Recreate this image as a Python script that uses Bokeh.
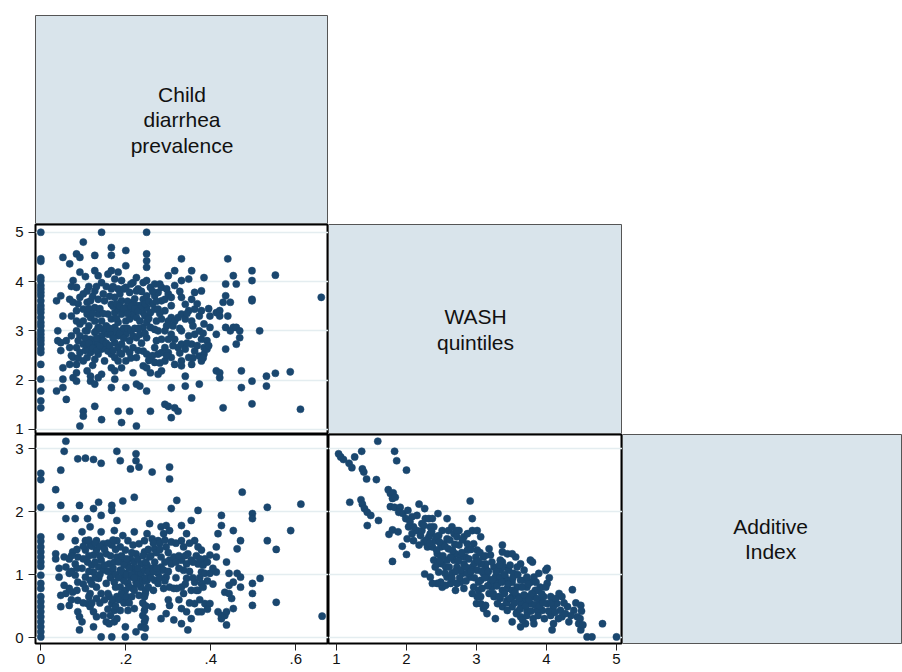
from bokeh.plotting import figure
from bokeh.layouts import gridplot
from bokeh.models import Range1d, FixedTicker
from bokeh.core.properties import value
from bokeh.embed import file_html
from bokeh.resources import INLINE

# ---------------- labels / ticks ----------------
var_labels = ["Child\ndiarrhea\nprevalence", "WASH\nquintiles", "Additive\nIndex"]
diar_ticks = [0, 0.2, 0.4, 0.6]
diar_tick_labels = ["0", ".2", ".4", ".6"]
wash_ticks = [1, 2, 3, 4, 5]
wash_tick_labels = ["1", "2", "3", "4", "5"]
addi_ticks = [0, 1, 2, 3]
addi_tick_labels = ["0", "1", "2", "3"]

# ---------------- panel A: diarrhea (x) vs WASH quintiles (y) ----------------
a_diar = [0.0, 0.037, 0.04, 0.047, 0.052, 0.06, 0.068, 0.076, 0.084, 0.092, 0.10, 0.109,
          0.117, 0.127, 0.135, 0.143, 0.15, 0.158, 0.166, 0.174, 0.182, 0.19, 0.20, 0.209,
          0.217, 0.225, 0.233, 0.241, 0.249, 0.258, 0.268, 0.276, 0.284, 0.292, 0.30, 0.307,
          0.315, 0.323, 0.331, 0.34, 0.348, 0.355, 0.362, 0.373, 0.378, 0.384, 0.391, 0.398,
          0.413, 0.421, 0.429, 0.435, 0.44, 0.446, 0.453, 0.46, 0.468, 0.472, 0.497, 0.515,
          0.531, 0.552, 0.587, 0.611, 0.66,
          0.072, 0.088, 0.105, 0.113, 0.122, 0.131, 0.139, 0.147, 0.154, 0.162, 0.170, 0.178,
          0.186, 0.195, 0.204, 0.212, 0.221, 0.229, 0.237, 0.245, 0.254, 0.263, 0.272, 0.280,
          0.296, 0.311, 0.327, 0.344, 0.358, 0.368, 0.382, 0.395]
a_wash = [
    [5.0, 4.46, 4.41, 4.08, 4.02, 3.92, 3.85, 3.78, 3.71, 3.61, 3.51, 3.44, 3.37, 3.27, 3.17,
     3.10, 3.0, 2.93, 2.86, 2.80, 2.73, 2.63, 2.56, 2.32, 2.02, 1.78, 1.58, 1.44],
    [3.61, 1.78], [3.0, 2.8], [3.71, 2.76, 2.6], [4.49, 3.3, 2.25, 2.02, 1.85], [2.8, 1.61],
    [4.36, 3.64, 2.66, 2.32], [4.02, 3.58, 2.46, 2.05],
    [4.56, 3.88, 3.41, 3.2, 3.0, 2.66, 2.32, 2.15, 1.98],
    [4.49, 4.19, 3.68, 3.14, 2.9, 2.56, 1.07],
    [4.8, 3.75, 3.44, 3.2, 2.73, 2.39, 1.37, 1.27],
    [3.81, 3.58, 3.34, 3.0, 2.66, 2.46, 2.19],
    [3.61, 3.27, 2.83, 2.56, 2.08, 1.98],
    [4.53, 4.22, 3.81, 3.47, 3.2, 2.97, 2.73, 2.42, 1.92, 1.47],
    [4.12, 3.64, 3.34, 3.07, 2.76, 2.53, 2.05],
    [5.0, 3.98, 3.2, 2.9, 2.63, 2.12, 1.2],
    [3.61, 3.0, 2.66, 2.39],
    [4.15, 3.34, 2.93, 2.59],
    [4.69, 4.53, 4.22, 3.85, 3.54, 3.24, 2.93, 2.53, 2.25, 1.85],
    [4.05, 3.68, 3.37, 3.07, 2.76, 2.46, 2.19, 2.02],
    [4.19, 3.85, 3.44, 3.17, 2.9, 2.66, 2.39, 1.37],
    [4.02, 3.61, 3.34, 3.0, 2.73, 2.53, 2.25, 1.14],
    [4.63, 4.32, 3.88, 3.47, 3.2, 2.93, 2.63, 2.39, 1.85],
    [3.78, 3.44, 3.24, 2.8, 2.56, 1.37],
    [3.98, 3.58, 3.34, 2.9, 2.66, 2.15],
    [4.08, 3.81, 3.51, 3.27, 2.86, 2.46, 1.92, 1.07],
    [3.51, 3.2, 2.93, 1.88],
    [3.98, 3.64, 3.37, 3.07, 2.59, 2.29],
    [5.0, 4.56, 4.42, 4.29, 4.02, 3.71, 3.47, 3.17, 2.86, 2.53, 2.25, 1.78],
    [3.88, 3.37, 3.07, 2.46, 2.15, 1.37],
    [3.95, 3.71, 3.44, 3.03, 2.66, 2.36],
    [3.78, 3.44, 3.0, 2.53, 2.12],
    [3.88, 3.61, 3.24, 2.83, 2.56, 2.19],
    [3.64, 3.41, 3.0, 2.66, 2.39, 1.51],
    [4.12, 3.75, 3.2, 2.83, 2.56, 1.47],
    [3.68, 3.51, 3.27, 2.93, 2.46, 1.85, 1.24],
    [4.22, 3.92, 3.2, 2.83, 2.32, 1.44],
    [3.27, 2.66, 1.37],
    [4.46, 4.02, 3.68, 3.34, 3.0, 2.73, 2.39, 2.29],
    [3.54, 3.24, 2.63, 2.08, 1.88],
    [4.05, 3.41, 2.9, 2.46],
    [4.22, 3.64, 3.2, 2.73, 2.32, 1.64],
    [3.78, 3.44, 2.93, 2.59],
    [3.3, 3.0, 2.49, 1.92],
    [3.81, 3.41, 2.83, 2.39],
    [4.08, 3.14, 2.66, 2.53],
    [2.8, 2.63], [3.3, 3.07], [3.37, 2.93, 2.19], [3.41, 3.3, 2.15, 2.05], [3.58, 1.44],
    [3.95, 3.71, 3.07, 2.63], [4.46, 3.3], [3.58, 3.0], [4.12, 3.07], [3.95, 3.07, 2.73],
    [3.0, 2.86], [2.19, 1.85], [4.22, 4.02, 3.64, 3.61, 1.98, 1.52], [3.0], [2.08, 1.88],
    [4.13, 2.14], [2.17], [1.41], [3.68],
    [3.9, 3.3, 2.9, 2.5], [3.55, 2.8, 2.45], [4.1, 3.0, 2.85, 2.6], [3.9, 3.45, 3.1, 2.75],
    [3.7, 3.35, 2.65, 2.3], [3.9, 3.0, 2.85, 2.6], [3.45, 3.05, 2.7], [3.75, 3.35, 2.8],
    [3.9, 3.1, 2.75], [3.7, 3.05, 2.7], [3.9, 3.5, 2.85, 2.6], [3.55, 3.25, 3.0],
    [3.75, 3.5, 2.95, 2.55], [3.85, 3.45, 3.05, 2.85], [3.6, 3.35, 3.05], [3.95, 3.5, 3.0, 2.45],
    [3.65, 3.45, 3.05], [3.85, 3.4, 3.05, 2.6], [3.8, 3.5, 2.75], [3.55, 3.3, 2.95],
    [3.6, 3.25, 2.4], [3.8, 3.55, 2.5], [3.6, 3.2, 2.8], [3.95, 3.35, 2.35], [3.85, 3.1, 2.5],
    [3.1, 2.7], [3.8, 3.05, 2.55], [3.35, 2.75], [3.1, 2.45], [3.55, 2.7], [2.95, 2.45],
    [3.45, 2.7]]

# ---------------- panel B: diarrhea (x) vs Additive Index (y) ----------------
b_diar = [0.0, 0.035, 0.043, 0.047, 0.055, 0.059, 0.067, 0.075, 0.081, 0.087, 0.091, 0.097,
          0.105, 0.11, 0.116, 0.124, 0.131, 0.136, 0.142, 0.147, 0.154, 0.161, 0.167, 0.173,
          0.179, 0.187, 0.193, 0.199, 0.205, 0.211, 0.217, 0.22, 0.224, 0.231, 0.236, 0.244,
          0.25, 0.256, 0.262, 0.268, 0.276, 0.283, 0.289, 0.295, 0.303, 0.307, 0.313, 0.32,
          0.331, 0.336, 0.343, 0.346, 0.354, 0.362, 0.37, 0.378, 0.386, 0.398, 0.413, 0.417,
          0.425, 0.433, 0.437, 0.443, 0.449, 0.453, 0.462, 0.47, 0.474, 0.498, 0.516, 0.533,
          0.554, 0.588, 0.612, 0.662,
          0.072, 0.085, 0.100, 0.113, 0.120, 0.128, 0.139, 0.150, 0.158, 0.164, 0.170, 0.176,
          0.183, 0.190, 0.196, 0.202, 0.208, 0.214, 0.220, 0.228, 0.240, 0.246, 0.247, 0.253,
          0.259, 0.265, 0.272, 0.280, 0.292, 0.300, 0.318, 0.325, 0.340, 0.350, 0.358, 0.366,
          0.374, 0.382, 0.392, 0.405]
b_addi = [
    [2.61, 2.51, 2.07, 1.60, 1.53, 1.44, 1.36, 1.28, 1.20, 1.13, 0.99, 0.86, 0.78, 0.65,
     0.57, 0.49, 0.41, 0.33, 0.25, 0.17, 0.09, 0.01],
    [2.35, 1.33, 1.25], [1.1, 0.96], [2.66, 2.1, 1.6, 0.67, 0.49], [2.96, 1.28, 0.83],
    [3.12, 1.89, 1.12, 0.70], [1.25, 1.02, 0.78, 0.51], [1.36, 0.72],
    [1.89, 1.54, 1.17, 0.99], [2.84, 1.28, 0.88, 0.59, 0.41], [2.1, 0.33, 0.12],
    [1.68, 1.1, 0.25], [2.85, 1.54, 1.39, 0.96, 0.78], [1.89, 1.2, 0.54],
    [1.76, 1.47, 0.91, 0.7, 0.49], [2.83, 2.05, 1.31, 1.04, 0.41, 0.17],
    [1.54, 1.39, 0.80, 0.62, 0.33], [2.15, 1.12, 0.94], [2.77, 1.94, 1.68, 1.23, 0.70, 0.01],
    [1.49, 1.07, 0.35], [1.33, 0.86, 0.25], [1.17, 0.65, 0.22],
    [2.1, 2.02, 1.47, 1.04, 0.54, 0.01], [1.70, 1.2, 0.88, 0.43, 0.25],
    [2.96, 1.86, 1.54, 1.28, 0.65, 0.30], [2.81, 1.44, 1.07, 0.80, 0.43],
    [2.17, 1.62, 1.2, 0.94, 0.59], [1.39, 1.02, 0.75, 0.17, 0.01], [1.54, 1.15, 0.86, 0.43],
    [2.68, 1.25, 0.96], [1.47, 1.1, 0.78], [2.23, 1.68, 0.46],
    [2.92, 2.81, 1.33, 1.04, 0.88, 0.09], [2.71, 1.49, 0.94, 0.67], [1.17, 1.02, 0.80, 0.17],
    [1.54, 1.36, 1.07, 0.65, 0.43, 0.25, 0.01], [1.65, 1.15, 0.91], [1.81, 1.28, 0.96],
    [2.63, 1.57, 1.1, 0.49], [1.41, 1.2, 0.91], [1.54, 1.02, 0.86], [1.76, 1.28, 1.12, 0.30],
    [1.65, 1.07, 0.78], [1.78, 1.44, 0.96, 0.38], [2.71, 2.52, 1.70, 1.23, 0.80, 0.51],
    [2.05, 1.52, 1.17], [1.28, 0.78, 0.28], [2.18, 0.78],
    [1.78, 1.54, 1.23, 0.80, 0.46, 0.22], [1.44, 1.07, 0.70], [1.65, 1.17, 0.94, 0.41],
    [1.33, 0.12], [1.86, 1.23, 0.75, 0.30], [1.54, 0.88, 0.54], [2.02, 1.44, 1.17, 0.75, 0.41],
    [1.39, 1.04, 0.86, 0.41], [1.25, 1.02, 0.54], [1.31, 1.02, 0.54], [1.44, 1.28, 1.04],
    [1.65, 0.41], [1.94, 1.78, 0.35, 0.30], [0.72, 0.35], [1.2, 0.20, 0.41], [1.02, 0.83, 0.70],
    [0.62], [1.70, 0.88, 0.46], [1.41, 1.02], [1.54, 0.96, 0.80], [2.31],
    [1.97, 1.89, 0.86, 0.70, 0.51], [0.94], [2.07, 1.54], [1.40, 0.56], [1.70], [2.12], [0.34],
    [1.3, 1.05, 0.6], [1.4, 1.1, 0.75], [1.45, 1.25, 0.85, 0.55], [1.55, 1.3, 1.05, 0.65],
    [1.45, 1.15, 0.85, 0.55], [1.5, 1.2, 0.95], [1.45, 1.3, 1.0, 0.55], [1.4, 1.15, 0.6],
    [1.5, 1.05, 0.7, 0.45], [1.3, 0.95, 0.35], [1.55, 1.1, 0.6], [1.4, 1.0, 0.8, 0.5],
    [1.2, 0.95, 0.6], [1.3, 1.05, 0.7], [1.15, 0.9, 0.55], [1.25, 1.0, 0.65], [1.1, 0.8, 0.55],
    [1.35, 1.0, 0.65], [1.2, 0.95, 0.75], [1.25, 1.1, 0.85], [1.3, 0.9, 0.55, 0.35],
    [0.9, 0.7, 0.5, 0.3, 0.15], [1.2, 0.95, 0.75, 0.5], [1.4, 1.05, 0.8], [1.3, 0.95],
    [1.5, 1.05, 0.75], [1.35, 1.1], [1.5, 1.4, 0.95], [1.55, 1.2, 0.9], [1.35, 1.05, 0.6],
    [1.5, 1.2, 0.95], [1.3, 1.1, 0.6], [1.3, 0.85], [1.5, 1.05, 0.55], [1.2, 0.95], [1.3, 0.75],
    [1.25, 0.95, 0.6], [1.15, 0.8], [1.2, 0.9, 0.45], [1.1, 0.85]]

# ---------------- panel C: WASH quintiles (x) vs Additive Index (y) ----------------
c_wash = [1.03, 1.06, 1.10, 1.18, 1.22, 1.26, 1.36, 1.37, 1.39, 1.43, 1.59, 1.57, 1.83, 1.86, 2.00,
          1.19, 1.35, 1.37, 1.40, 1.44, 1.49, 1.44, 1.60,
          1.74, 1.77, 1.81, 1.80, 1.84, 1.77, 1.83, 1.91, 1.89, 1.95, 2.02, 1.99, 2.08, 2.15, 2.18,
          2.26, 1.75, 1.80, 1.88, 1.80, 1.94, 2.00, 2.26,
          2.03, 2.08, 2.01, 2.10, 2.15, 2.20, 2.18, 2.22, 2.27, 2.25, 2.32, 2.37, 2.39, 2.34, 2.30,
          2.37, 2.41, 2.44, 2.49, 2.39, 2.41, 2.46, 2.51, 2.56, 2.58, 2.60, 2.53, 2.58, 2.51, 2.60,
          2.68, 2.65, 2.72, 2.75, 2.70, 2.68, 2.72, 2.65, 2.58, 2.51, 2.56, 2.63, 2.70, 2.77, 2.80,
          2.82, 2.84, 2.87, 2.82, 2.87, 2.94, 2.94, 2.91, 2.96, 3.01, 2.99, 2.94, 2.91, 2.96, 3.00,
          3.03, 3.06, 3.10, 3.13, 3.10, 3.15, 3.13, 3.18, 3.20, 3.25, 3.27, 3.22, 3.30, 3.34, 3.37,
          3.39, 3.41, 3.44, 3.34, 3.27, 3.37, 3.44, 3.46, 3.51, 3.53, 3.58, 3.56, 3.63, 3.68, 3.60,
          3.68, 3.72, 3.77, 3.80, 3.82, 3.84, 3.89, 3.91, 3.96, 3.99, 4.01, 3.94, 4.01, 4.06, 4.06,
          4.08, 4.10, 4.15, 4.18, 4.20, 4.22, 4.30, 4.32, 4.37, 4.39, 4.44, 4.46, 4.49, 4.49, 4.58,
          4.65, 4.80, 5.00, 3.44, 3.51, 3.58, 3.63, 3.70, 3.51, 3.82, 3.87, 3.77, 3.63, 3.37, 3.25,
          3.18, 3.06, 3.01, 2.94, 2.82, 2.72, 2.65, 2.49, 2.44, 2.37, 2.34, 3.06, 3.13, 3.44, 3.51,
          3.72, 3.91, 4.10, 4.22, 3.68, 3.58, 3.30, 3.37, 2.44, 2.49, 2.63, 2.77, 2.77, 2.87, 3.01,
          3.06, 3.15, 3.20, 3.34, 3.44, 3.63, 3.72, 3.82, 3.87, 3.63, 3.72, 3.51, 3.34, 3.10, 2.87,
          2.75, 2.46, 2.32, 2.22, 2.10, 2.05, 2.34, 2.45, 2.58, 2.72, 3.01, 3.06, 3.37, 3.51, 3.77,
          4.01,
          2.25, 2.28, 2.33, 2.36, 2.42, 2.47, 2.43, 2.48, 2.52, 2.55, 2.55, 2.61, 2.62, 2.66, 2.69,
          2.70, 2.74, 2.76, 2.79, 2.80, 2.85, 2.85, 2.89, 2.92, 2.92, 2.97, 2.97, 3.02, 3.03, 3.05,
          3.08, 3.08, 3.12, 3.12, 3.16, 3.17, 3.22, 3.23, 3.24, 3.28, 3.29, 3.32, 3.33, 3.36, 3.40,
          3.40, 3.43, 3.45, 3.48, 3.48, 3.52, 3.54, 3.55, 3.57, 3.59, 3.61, 3.62, 3.65, 3.66, 3.68,
          3.70, 3.72, 3.74, 3.75, 3.78, 3.79, 3.81, 3.83, 3.85, 3.86, 3.88, 3.90, 3.93, 3.95, 3.97,
          3.99, 4.03, 4.04, 4.07, 4.12, 4.13, 4.17, 4.25, 4.27, 4.35, 4.42, 4.48, 4.50, 4.52]
c_addi = [2.92, 2.87, 2.83, 2.77, 2.70, 2.87, 2.96, 2.68, 2.63, 2.52, 3.12, 2.51, 2.96, 2.81, 2.66,
          2.15, 2.19, 2.12, 2.05, 1.99, 1.94, 1.78, 1.86,
          2.35, 2.29, 2.30, 2.21, 2.23, 2.08, 2.07, 2.07, 1.99, 1.97, 2.02, 1.89, 1.92, 1.94, 2.12,
          2.05, 1.64, 1.71, 1.68, 1.21, 1.45, 1.32, 1.01,
          1.76, 1.65, 1.57, 1.54, 1.70, 1.62, 1.47, 1.81, 1.89, 1.52, 1.89, 1.89, 1.76, 1.65, 1.44,
          1.44, 1.54, 1.33, 1.28, 1.23, 1.12, 1.04, 1.17, 1.12, 1.23, 1.41, 1.49, 1.57, 1.70, 1.70,
          1.65, 1.76, 1.60, 1.47, 1.33, 1.23, 1.12, 1.02, 0.96, 0.80, 0.83, 0.86, 0.75, 0.88, 1.02,
          1.17, 1.28, 1.39, 1.60, 1.65, 1.70, 1.89, 2.17, 1.49, 1.39, 1.28, 1.12, 0.96, 0.80, 0.54,
          0.75, 0.91, 1.02, 1.10, 0.46, 0.38, 1.17, 1.41, 1.31, 1.12, 0.96, 0.80, 0.86, 1.07, 1.20,
          1.12, 0.96, 0.78, 0.62, 0.30, 1.47, 1.33, 1.07, 0.88, 1.02, 1.12, 1.28, 1.17, 1.07, 0.65,
          0.59, 0.80, 0.88, 1.20, 0.96, 0.75, 1.02, 0.80, 0.65, 1.07, 0.86, 0.43, 0.54, 0.65, 0.35,
          0.12, 0.49, 0.54, 0.70, 0.43, 0.33, 0.49, 0.25, 0.76, 0.43, 0.33, 0.22, 0.51, 0.12, 0.01,
          0.01, 0.22, 0.01, 0.59, 0.49, 0.41, 0.17, 0.22, 0.25, 0.22, 0.43, 0.54, 0.33, 0.49, 0.65,
          0.70, 0.65, 0.65, 0.70, 0.78, 0.86, 0.94, 0.88, 0.86, 0.86, 0.96, 0.54, 0.51, 0.43, 0.65,
          0.43, 0.59, 0.22, 0.65, 0.91, 0.80, 0.54, 0.75, 1.17, 1.44, 1.28, 1.28, 1.07, 1.02, 1.07,
          1.17, 0.96, 0.86, 0.96, 0.91, 0.91, 0.65, 0.65, 0.75, 0.54, 0.96, 0.75, 1.23, 1.28, 1.49,
          1.70, 1.62, 1.60, 1.70, 1.76, 1.84, 1.76, 1.97, 1.89, 1.70, 1.70, 1.60, 1.36, 1.33, 1.23,
          1.10,
          1.78, 1.55, 1.50, 1.68, 1.60, 1.52, 1.39, 1.22, 1.30, 1.45, 1.02, 1.12, 1.55, 1.38, 1.48,
          1.05, 1.22, 0.95, 1.35, 1.55, 1.12, 0.90, 1.25, 1.40, 1.05, 1.18, 0.95, 1.22, 0.88, 1.35,
          1.05, 0.78, 0.95, 1.30, 0.82, 1.05, 1.20, 0.92, 0.70, 1.05, 0.82, 0.65, 1.15, 0.88, 0.70,
          1.00, 0.55, 0.85, 1.15, 0.62, 0.95, 0.55, 0.72, 0.38, 1.00, 0.62, 0.45, 0.80, 0.28, 0.68,
          0.50, 0.35, 0.85, 0.60, 0.42, 0.70, 0.30, 0.52, 0.88, 0.62, 0.35, 0.50, 0.70, 0.55, 0.30,
          0.80, 0.42, 0.95, 0.55, 0.40, 0.62, 0.30, 0.55, 0.38, 0.35, 0.55, 0.30, 0.42, 0.20]

# ---------------- style ----------------
NAVY = "#1a476f"
DIAG_FILL = "#d9e4eb"
GRID_COL = "#e4edf0"
FONT = "Liberation Sans"

diar_range = (-0.0125, 0.677)
wash_range_y = (0.898, 5.157)
wash_range_x = (0.886, 5.086)
addi_range = (-0.095, 3.227)

COL_W = [293, 294, 280]
ROW_H = [209, 210, 209]
LEFT_B = 35
TOP_B = 15
BOT_B = 27


def expand(xs, groups):
    xo, yo = [], []
    for x, ys in zip(xs, groups):
        for y in ys:
            xo.append(x)
            yo.append(y)
    return xo, yo


def style_axis(ax, ticks, labels):
    ax.ticker = FixedTicker(ticks=ticks)
    ax.major_label_overrides = {t: l for t, l in zip(ticks, labels)}
    ax.axis_line_color = None
    ax.major_tick_line_color = "#222222"
    ax.major_tick_line_width = 1
    ax.minor_tick_line_color = None
    ax.major_label_text_font = FONT
    ax.major_label_text_font_size = "15px"
    ax.major_label_text_color = "#111111"


def scatter_panel(x, y, xr, yr, fw, fh, left, bottom, xt=None, xl=None, yt=None, yl=None, grid_ticks=None):
    p = figure(frame_width=fw, frame_height=fh,
               x_range=Range1d(*xr), y_range=Range1d(*yr),
               x_axis_location="below" if xt is not None else None,
               y_axis_location="left" if yt is not None else None,
               output_backend="svg", toolbar_location=None,
               min_border_left=left, min_border_right=0, min_border_top=0,
               min_border_bottom=bottom,
               background_fill_color="white", border_fill_color="white",
               outline_line_color="black", outline_line_width=2)
    if xt is not None:
        style_axis(p.xaxis[0], xt, xl)
        p.xaxis.major_tick_out = 7
        p.xaxis.major_tick_in = 0
        p.xaxis.major_label_standoff = 3
    if yt is not None:
        style_axis(p.yaxis[0], yt, yl)
        p.yaxis.major_tick_out = 7
        p.yaxis.major_tick_in = 0
        p.yaxis.major_label_standoff = 5
    p.xgrid.visible = False
    p.ygrid.ticker = FixedTicker(ticks=grid_ticks)
    p.ygrid.grid_line_color = GRID_COL
    p.ygrid.grid_line_width = 1.5
    p.scatter(x, y, size=7.2, marker="circle", fill_color=NAVY, line_color=NAVY, line_width=0.5)
    return p


def diag_panel(label, fw, fh, left, top, bottom, lx):
    p = figure(frame_width=fw, frame_height=fh,
               x_range=Range1d(0, 1), y_range=Range1d(0, 1),
               x_axis_location=None, y_axis_location=None,
               output_backend="svg", toolbar_location=None,
               min_border_left=left, min_border_right=0, min_border_top=top,
               min_border_bottom=bottom,
               background_fill_color=DIAG_FILL, border_fill_color="white",
               outline_line_color="#555555", outline_line_width=1)
    p.xgrid.visible = False
    p.ygrid.visible = False
    p.text(x=[lx], y=[0.5], text=[label], text_align="center", text_baseline="middle",
           text_font=value(FONT), text_font_size="21px", text_color="#111111",
           text_line_height=1.1)
    return p


ax_, ay_ = expand(a_diar, a_wash)
bx_, by_ = expand(b_diar, b_addi)

d1 = diag_panel(var_labels[0], COL_W[0], ROW_H[0], LEFT_B, TOP_B, 0, 0.5)
pa = scatter_panel(ax_, ay_, diar_range, wash_range_y, COL_W[0], ROW_H[1], LEFT_B, 0,
                   yt=wash_ticks, yl=wash_tick_labels, grid_ticks=wash_ticks)
d2 = diag_panel(var_labels[1], COL_W[1], ROW_H[1], 0, 0, 0, 0.5)
pb = scatter_panel(bx_, by_, diar_range, addi_range, COL_W[0], ROW_H[2], LEFT_B, BOT_B,
                   xt=diar_ticks, xl=diar_tick_labels, yt=addi_ticks, yl=addi_tick_labels,
                   grid_ticks=addi_ticks)
pc = scatter_panel(c_wash, c_addi, wash_range_x, addi_range, COL_W[1], ROW_H[2], 0, BOT_B,
                   xt=wash_ticks, xl=wash_tick_labels, grid_ticks=addi_ticks)
d3 = diag_panel(var_labels[2], COL_W[2], ROW_H[2], 0, 0, BOT_B, 0.529)

grid = gridplot([[d1, None, None], [pa, d2, None], [pb, pc, d3]],
                toolbar_location=None, merge_tools=False)

open("out.html", "w").write(file_html(grid, INLINE))
